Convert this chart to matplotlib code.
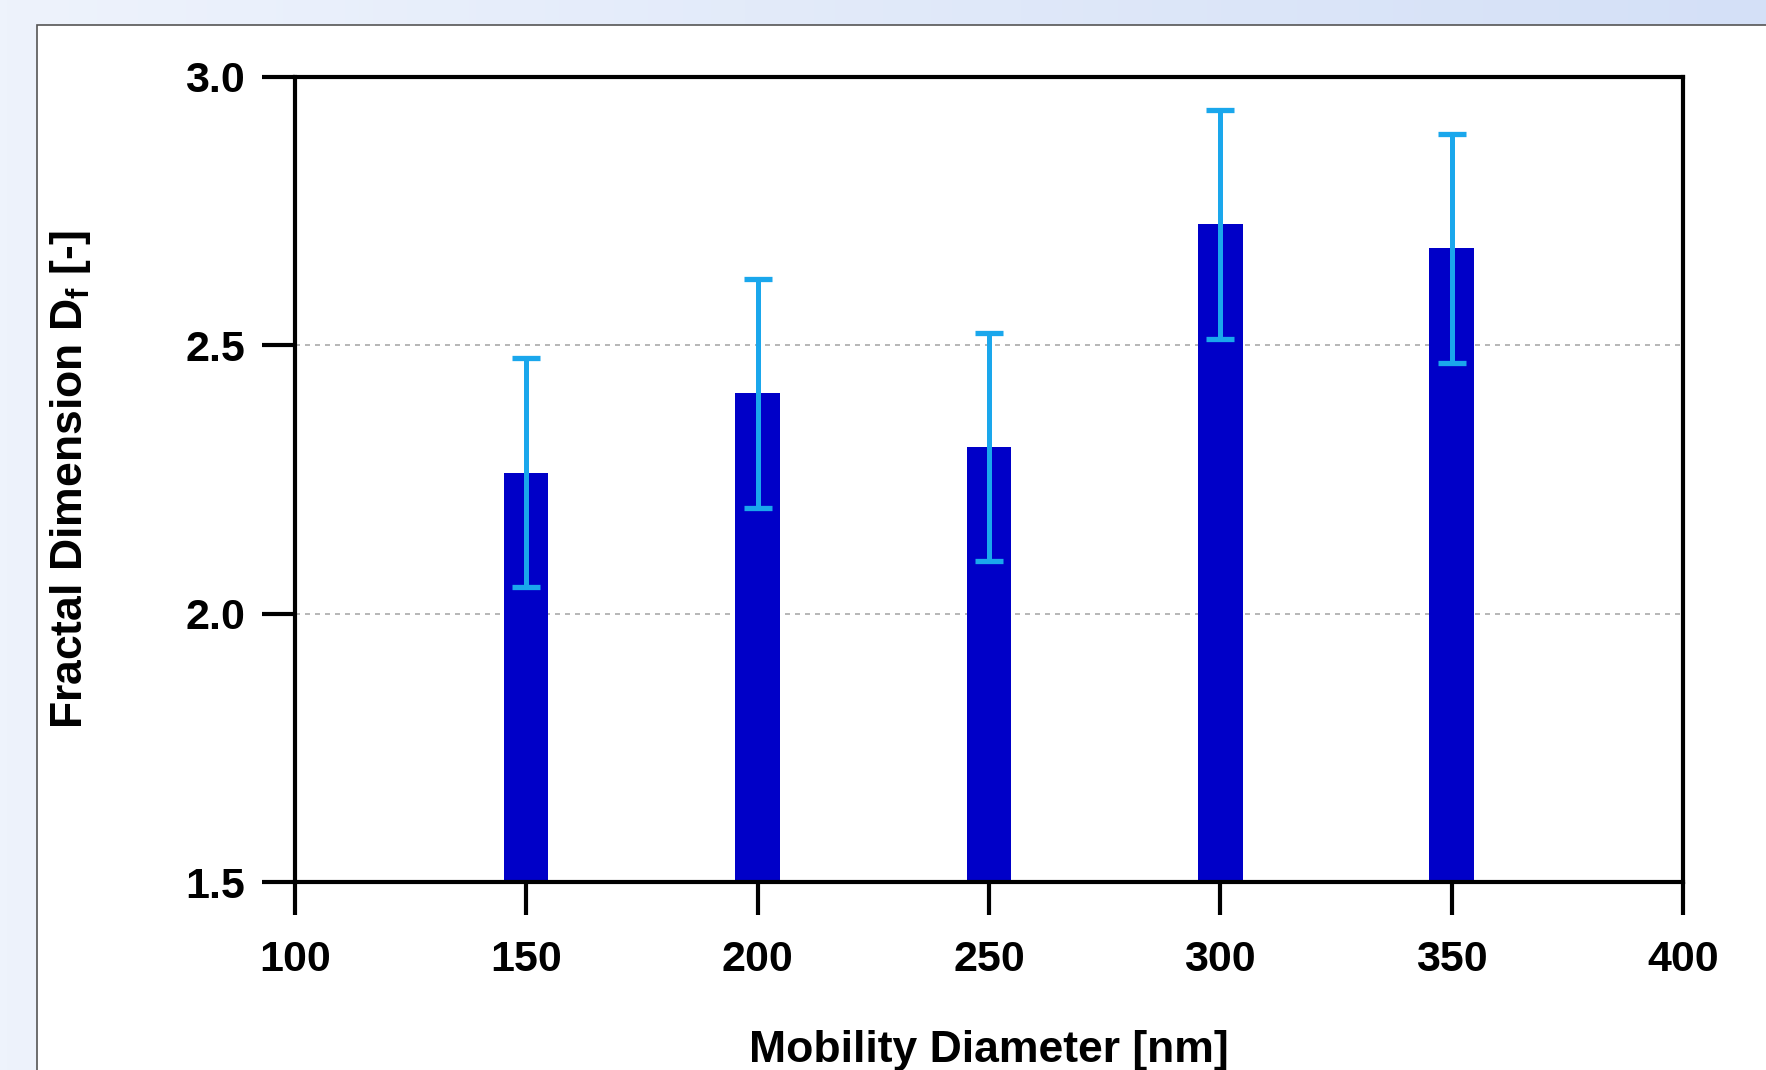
import numpy as np
import matplotlib
matplotlib.use("Agg")
import matplotlib.pyplot as plt
from matplotlib.patches import Rectangle

# mobility diameters [nm] and fractal dimension with its uncertainty
diameters = [150, 200, 250, 300, 350]
fractal_dim = [2.262, 2.41, 2.31, 2.725, 2.68]
fractal_err = [0.213, 0.213, 0.213, 0.213, 0.213]
x_ticks = [100, 150, 200, 250, 300, 350, 400]
y_ticks = [1.5, 2.0, 2.5, 3.0]

plt.rcParams['font.family'] = 'Liberation Sans'
plt.rcParams['font.weight'] = 'bold'
plt.rcParams['mathtext.fontset'] = 'custom'
plt.rcParams['mathtext.bf'] = 'Liberation Sans:bold'
plt.rcParams['mathtext.rm'] = 'Liberation Sans:bold'

fig = plt.figure(figsize=(17.66, 10.7), dpi=100)

# light blue gradient behind the white panel
bg = fig.add_axes([0, 0, 1, 1], zorder=-10)
grad = np.linspace(0, 1, 256).reshape(1, -1)
cmap = matplotlib.colors.LinearSegmentedColormap.from_list("bg", ["#eef3fc", "#d4e0f7"])
bg.imshow(grad, aspect='auto', cmap=cmap, extent=[0, 1, 0, 1])
bg.set_axis_off()
fig.patches.append(Rectangle((37 / 1766, -0.01), 1.0, 1 - 25 / 1070 + 0.01,
                             transform=fig.transFigure, facecolor='white',
                             edgecolor='#555555', linewidth=1.2, zorder=-5))

ax = fig.add_axes([0.167, 0.1757, 0.786, 0.7527])
ax.patch.set_alpha(0)

ax.bar(diameters, fractal_dim, width=9.6, bottom=0, color='#0000c8', zorder=2)
ax.errorbar(diameters, fractal_dim, yerr=fractal_err, fmt='none', ecolor='#1aa7ec',
            elinewidth=3.6, capsize=10, capthick=3.8, zorder=3)

for y in [2.0, 2.5]:
    ax.axhline(y, color='#aaaaaa', linestyle=(0, (3, 3)), linewidth=1.2, zorder=1)

ax.set_xlim(100, 400)
ax.set_ylim(1.5, 3.0)
ax.set_xticks(x_ticks)
ax.set_yticks(y_ticks)
ax.set_yticklabels([f"{v:.1f}" for v in y_ticks])

for spine in ax.spines.values():
    spine.set_linewidth(3)
    spine.set_color('black')

ax.tick_params(axis='both', direction='out', length=24, width=3, labelsize=31, colors='black')
ax.tick_params(axis='x', pad=18)
ax.tick_params(axis='y', pad=12)

ax.set_xlabel("Mobility Diameter [nm]", fontsize=32, fontweight='bold', labelpad=36)
ax.set_ylabel(r"Fractal Dimension D$_\mathbf{f}$ [-]", fontsize=32, fontweight='bold', labelpad=66)

fig.savefig("out.png", dpi=100)
